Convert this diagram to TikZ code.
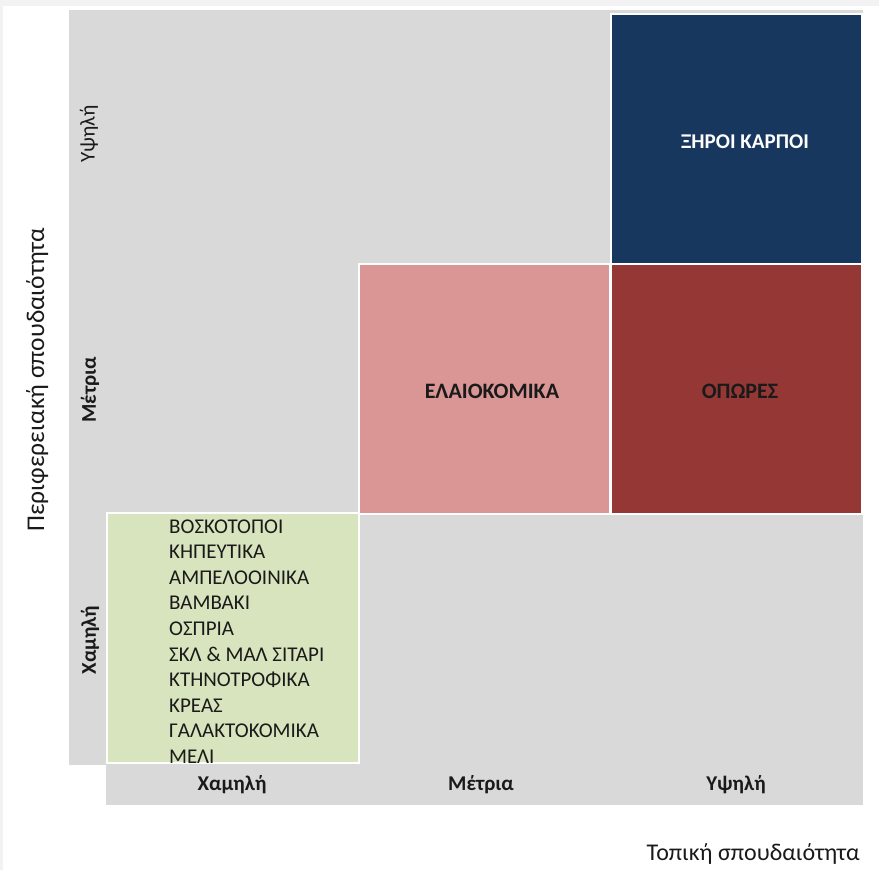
\documentclass[tikz,border=0pt]{standalone}
\usepackage{fontspec}
\setmainfont{Carlito}
\definecolor{bggrey}{HTML}{D9D9D9}
\definecolor{framegrey}{HTML}{F2F2F2}
\definecolor{lowgreen}{HTML}{D7E4BD}
\definecolor{midpink}{HTML}{D99694}
\definecolor{darkred}{HTML}{953735}
\definecolor{navy}{HTML}{17375E}
\definecolor{txt}{HTML}{1A1A1A}
\begin{document}
\begin{tikzpicture}[x=1pt,y=-1pt,
  cell/.style={draw=white, line width=2pt, minimum width=251pt, minimum height=250pt, inner sep=0pt, anchor=north west},
  celltxt/.style={font=\fontsize{22}{26}\selectfont\bfseries, text=txt},
  axlab/.style={font=\fontsize{21}{25}\selectfont\bfseries, text=txt},
  vlab/.style={font=\fontsize{21}{25}\selectfont\bfseries, text=txt, rotate=90},
  item/.style={anchor=base west, font=\fontsize{21}{25}\selectfont, text=txt, inner sep=0pt},
  ttl/.style={font=\fontsize{24}{28}\selectfont, text=txt, inner sep=0pt}]
\useasboundingbox (0,0) rectangle (879,870);
\fill[white] (0,0) rectangle (879,870);
\fill[framegrey] (0,0) rectangle (879,6);
\fill[framegrey] (0,0) rectangle (3,870);
% grey background areas
\fill[bggrey] (69,10) rectangle (863,765);
\fill[bggrey] (106,765) rectangle (863,805);
% cells
\node[cell, fill=navy] (dry) at (610,13) {};
\node[cell, fill=darkred] (fruit) at (610,263) {};
\node[cell, fill=midpink] (olive) at (358,263) {};
\node[cell, fill=lowgreen, minimum width=252pt] (low) at (106,512) {};
% cell texts
\node[celltxt, font=\fontsize{21}{25}\selectfont\bfseries, text=white] (drytxt) at (745,142) {ΞΗΡΟΙ ΚΑΡΠΟΙ};
\node[celltxt] (fruittxt) at (740,391) {ΟΠΩΡΕΣ};
\node[celltxt] (olivetxt) at (492,391) {ΕΛΑΙΟΚΟΜΙΚΑ};
\foreach \t [count=\i] in {ΒΟΣΚΟΤΟΠΟΙ,ΚΗΠΕΥΤΙΚΑ,ΑΜΠΕΛΟΟΙΝΙΚΑ,ΒΑΜΒΑΚΙ,ΟΣΠΡΙΑ,ΣΚΛ \& ΜΑΛ ΣΙΤΑΡΙ,ΚΤΗΝΟΤΡΟΦΙΚΑ,ΚΡΕΑΣ,ΓΑΛΑΚΤΟΚΟΜΙΚΑ,ΜΕΛΙ}
  \node[item] (item\i) at (169,{533+25.6*(\i-1)}) {\t};
% x axis labels
\node[axlab] (xlow) at (232,785) {Χαμηλή};
\node[axlab] (xmid) at (481,785) {Μέτρια};
\node[axlab] (xhigh) at (736,785) {Υψηλή};
% y axis labels
\node[vlab, font=\fontsize{21}{25}\selectfont] (yhigh) at (89,134) {Υψηλή};
\node[vlab] (ymid) at (90,390) {Μέτρια};
\node[vlab] (ylow) at (90,640) {Χαμηλή};
% axis titles
\node[ttl, anchor=base east] (xtitle) at (860,860) {Τοπική σπουδαιότητα};
\node[ttl, font=\fontsize{25.5}{30}\selectfont, anchor=base, rotate=90] (ytitle) at (44,380) {Περιφερειακή σπουδαιότητα};
\end{tikzpicture}
\end{document}
